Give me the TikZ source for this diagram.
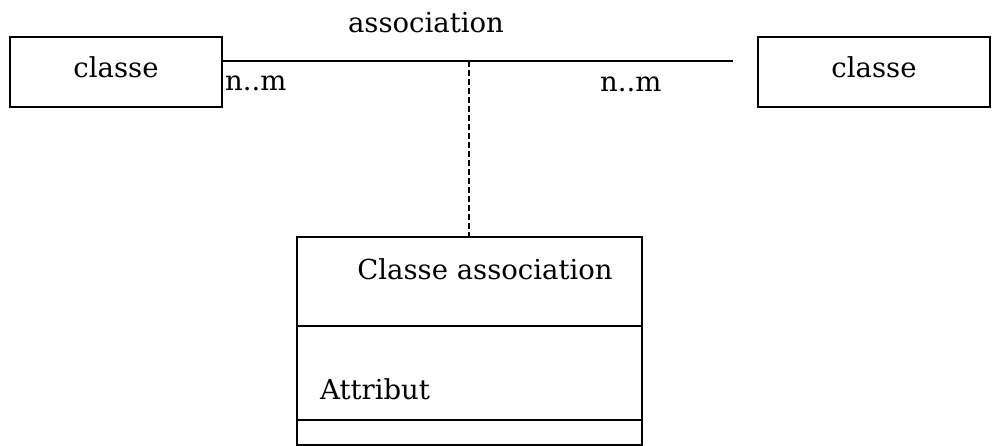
\documentclass[tikz,border=0pt]{standalone}
\usepackage{fontspec}
\setmainfont{DejaVu Serif}
\begin{document}
\begin{tikzpicture}[x=1pt,y=-1pt,
  umlclass/.style={draw,line width=1.5pt,inner sep=0pt},
  lbl/.style={inner sep=0pt,font=\fontsize{27.5}{32}\selectfont},
  link/.style={line width=1.5pt},
  divider/.style={line width=2pt},
  assoclink/.style={line width=1.5pt,dash pattern=on 6pt off 3pt}]
\useasboundingbox (0,0) rectangle (994,446);
% the two classes
\node[umlclass,minimum width=212pt,minimum height=70pt] (cA) at (116,72) {};
\node[umlclass,minimum width=232pt,minimum height=70pt] (cB) at (874,72) {};
\node[lbl,anchor=base] (cAname) at (116,78) {classe};
\node[lbl,anchor=base] (cBname) at (874,78) {classe};
% association line and its free end
\coordinate (aEnd) at (733,61);
\coordinate (aMid) at (469,61);
\draw[link] (cA.east |- aEnd) -- (aEnd);
\node[lbl,anchor=base] (aName) at (426,33) {association};
\node[lbl,anchor=base west] (mA) at (225,91) {n..m};
\node[lbl,anchor=base west] (mB) at (600,92) {n..m};
% association class with its name, attribute and operation compartments
\node[umlclass,minimum width=345pt,minimum height=208pt] (ac) at (469.5,341) {};
\draw[divider] ([yshift=-90pt]ac.north west) -- ([yshift=-90pt]ac.north east);
\draw[divider] ([yshift=-184pt]ac.north west) -- ([yshift=-184pt]ac.north east);
\node[lbl,anchor=base] (acName) at (485,280) {Classe association};
\node[lbl,anchor=base west] (acAttr) at (320,400) {Attribut};
% dashed link from the association to its class
\draw[assoclink] (aMid) -- (aMid |- ac.north);
\end{tikzpicture}
\end{document}
